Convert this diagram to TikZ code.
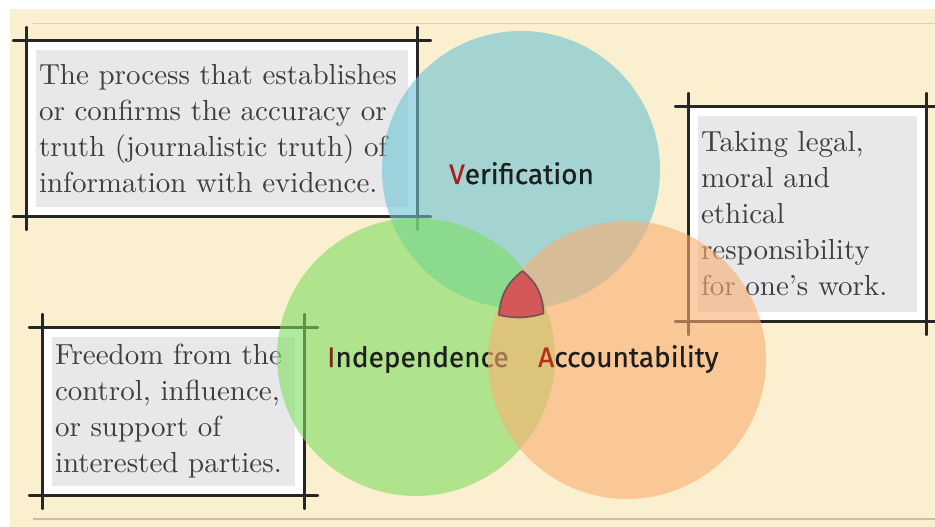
\documentclass[tikz,border=0pt]{standalone}
\usepackage{fontspec}
\newfontfamily\labelfont{Fira Sans}[FakeBold=0.6]
\newfontfamily\deffont{lmroman10-regular}[Extension=.otf]
\usepackage{xcolor}
\usepackage{tikz}
\usetikzlibrary{positioning, calc}
\definecolor{paper}{RGB}{250,239,206}
\definecolor{paperline}{RGB}{200,190,160}
\definecolor{boxgray}{RGB}{232,232,234}
\definecolor{inkgray}{RGB}{62,62,62}
\definecolor{labelink}{RGB}{30,30,30}
\definecolor{verblue}{RGB}{108,195,212}
\definecolor{indgreen}{RGB}{125,222,97}
\definecolor{accorange}{RGB}{250,175,113}
\definecolor{coremark}{RGB}{212,88,88}
\definecolor{coreline}{RGB}{120,85,85}
\definecolor{redV}{RGB}{170,30,30}
\definecolor{redI}{RGB}{125,40,20}
\definecolor{redA}{RGB}{185,45,25}
\tikzstyle{defbox} = [rectangle, fill=boxgray, text=inkgray, align=left, inner sep=3pt, outer sep=0pt, preaction={draw=white, line width=18pt}, font=\deffont\fontsize{29}{36}\selectfont]
\tikzstyle{frameline} = [line width=2.1pt, black!85, line cap=round]
\tikzstyle{setcircle} = [circle, inner sep=0pt, minimum size=278pt, fill opacity=0.6]
\tikzstyle{setlabel} = [anchor=base west, inner sep=0pt, text=labelink, font=\labelfont\fontsize{28}{30}\selectfont]

\begin{document}
\begin{tikzpicture}[x=1pt, y=1pt]
\useasboundingbox (0,0) rectangle (935,527);
% Paper
\fill [white] (0,0) rectangle (935,527);
\fill [paper] (10,0) rectangle (935,518);
\draw [paperline!70, line width=0.8pt] (33,504) -- (935,504);
\draw [paperline, line width=2pt] (33,8) -- (935,8);

% Definitions
\node (verdef) [defbox, text width=366pt, minimum height=157pt] at (222,398.5)
  {The process that establishes\\or confirms the accuracy or\\truth (journalistic truth) of\\information with evidence.};
\node (accdef) [defbox, text width=213pt, minimum height=196pt] at (807.5,313)
  {Taking legal,\\moral and\\ethical\\responsibility\\for one’s work.};
\node (inddef) [defbox, text width=237pt, minimum height=149pt] at (173.5,115.5)
  {Freedom from the\\control, influence,\\or support of\\interested parties.};

% Frames
\foreach \b in {verdef, accdef, inddef} {
  \draw [frameline] ($(\b.north west)+(-23,9.5)$) -- ($(\b.north east)+(23,9.5)$);
  \draw [frameline] ($(\b.south west)+(-23,-9.5)$) -- ($(\b.south east)+(23,-9.5)$);
  \draw [frameline] ($(\b.north west)+(-9.5,23)$) -- ($(\b.south west)+(-9.5,-23)$);
  \draw [frameline] ($(\b.north east)+(9.5,23)$) -- ($(\b.south east)+(9.5,-23)$);
}

% Sets
\node (ver) [setcircle, fill=verblue] at (521,357) {};
\node (ind) [setcircle, fill=indgreen] at (416,170) {};
\node (verlab) [setlabel] at (449,343) {\textcolor{redV}{V}erification};
\node (indlab) [setlabel] at (327,160) {\textcolor{redI}{I}ndependence};
\node (acc) [setcircle, fill=accorange] at (627,167) {};
\node (acclab) [setlabel] at (538,160) {\textcolor{redA}{A}ccountability};

% Core
\coordinate (ctop) at (522.5,256);
\coordinate (cleft) at (499,212);
\coordinate (cright) at (543.5,213.5);
\draw [fill=coremark, draw=coreline, line width=1.8pt, line join=round]
  (ctop) to[bend right=24] (cleft) to[bend right=14] (cright) to[bend right=24] (ctop);
\end{tikzpicture}
\end{document}
